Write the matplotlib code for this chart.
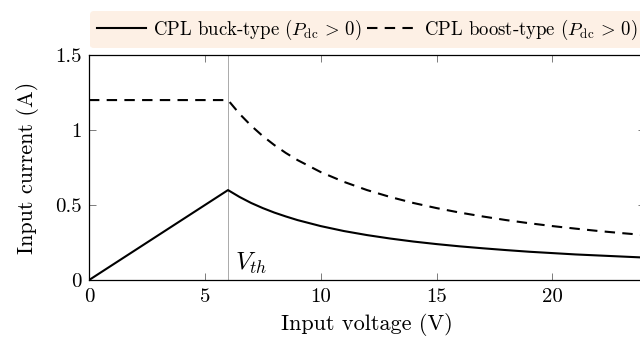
import matplotlib
matplotlib.use("Agg")
import matplotlib.pyplot as plt
from matplotlib.ticker import FixedLocator

plt.rcParams['font.family'] = 'serif'
plt.rcParams['font.serif'] = ['cmr10']
plt.rcParams['mathtext.fontset'] = 'cm'
plt.rcParams['axes.formatter.use_mathtext'] = True

# Data
v_buck = [0, 6, 6.5, 7, 7.5, 8, 8.5, 9, 10, 11, 12, 13, 14, 15, 16, 17, 18, 19, 20, 21, 22, 23, 24]
i_buck = [0, 0.6, 0.554, 0.514, 0.48, 0.45, 0.424, 0.4, 0.36, 0.327, 0.3, 0.277, 0.257,
          0.24, 0.225, 0.212, 0.2, 0.189, 0.18, 0.171, 0.164, 0.157, 0.15]
v_boost = [0, 6, 6.5, 7, 7.5, 8, 8.5, 9, 10, 11, 12, 13, 14, 15, 16, 17, 18, 19, 20, 21, 22, 23, 24]
i_boost = [1.2, 1.2, 1.108, 1.029, 0.96, 0.9, 0.847, 0.8, 0.72, 0.655, 0.6, 0.554, 0.514,
           0.48, 0.45, 0.424, 0.4, 0.379, 0.36, 0.343, 0.327, 0.313, 0.3]
v_th = 6
x_ticks = [0, 5, 10, 15, 20]
y_ticks = [0, 0.5, 1, 1.5]
y_tick_labels = ['0', '0.5', '1', '1.5']

fig = plt.figure(figsize=(6.4, 3.42), dpi=100)
ax = fig.add_axes([0.139, 0.181, 1.008 - 0.139, 0.839 - 0.181])

ax.axvline(v_th, color='#aaaaaa', lw=0.7, zorder=1)
ax.plot(v_buck, i_buck, color='black', lw=1.5, ls='-',
        label=r'CPL buck-type ($P_{\mathrm{dc}}\,>\,0$)', zorder=3)
ax.plot(v_boost, i_boost, color='black', lw=1.5, ls=(0, (5, 3.5)),
        label=r'CPL boost-type ($P_{\mathrm{dc}}\,>\,0$)', zorder=3)

ax.text(6.3, 0.11, r'$V_{th}$', fontsize=18, ha='left', va='center')

ax.set_xlim(0, 24)
ax.set_ylim(0, 1.5)
ax.xaxis.set_major_locator(FixedLocator(x_ticks))
ax.yaxis.set_major_locator(FixedLocator(y_ticks))
ax.set_yticklabels(y_tick_labels)
ax.set_xticklabels([str(t) for t in x_ticks])
ax.tick_params(direction='in', length=5, width=0.6, top=True, right=True,
               labelsize=15, color='#666666')
ax.tick_params(axis='x', pad=6)
ax.tick_params(axis='y', pad=5)
for s in ax.spines.values():
    s.set_linewidth(0.9)

ax.set_xlabel('Input voltage (V)', fontsize=16, labelpad=5)
ax.set_ylabel('Input current (A)', fontsize=16, labelpad=12)

leg = ax.legend(loc='lower center', bbox_to_anchor=(0.5, 1.03), ncol=2,
                frameon=True, fancybox=True, fontsize=13.5, handlelength=2.6,
                handletextpad=0.4, columnspacing=0.3, borderpad=0.35,
                borderaxespad=0.0)
fr = leg.get_frame()
fr.set_facecolor('#fdf0e5')
fr.set_edgecolor('none')
fr.set_alpha(1)

fig.savefig('out.png', dpi=100)
